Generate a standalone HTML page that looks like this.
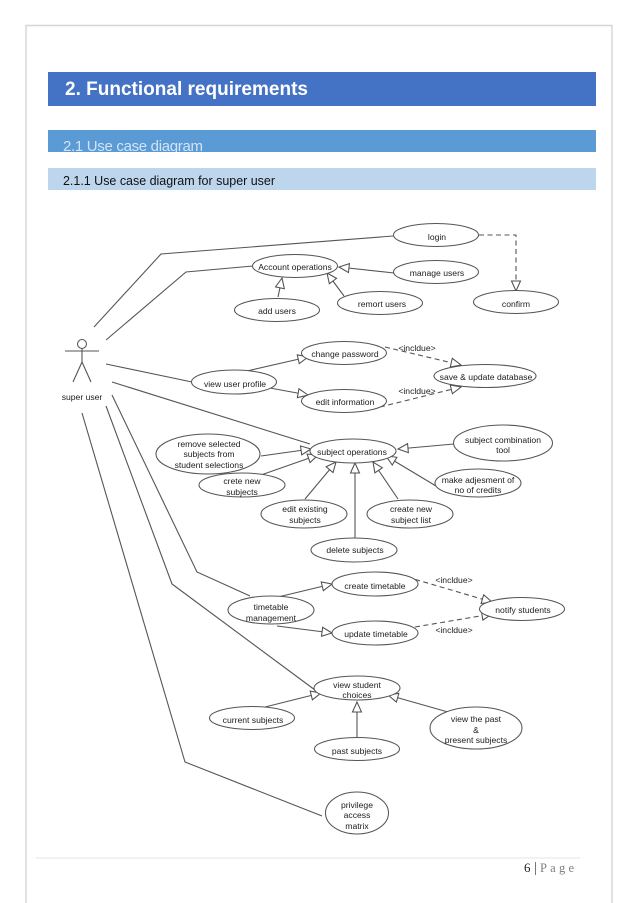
<!DOCTYPE html>
<html>
<head>
<meta charset="utf-8">
<style>
html,body{margin:0;padding:0;background:#fff;width:638px;height:903px;overflow:hidden}
svg{display:block}
.d line,.d polyline{fill:none;stroke:#555;stroke-width:1.1}
.d ellipse{fill:#fff;stroke:#555;stroke-width:1.05}
.d text{font-family:"Liberation Sans",sans-serif;font-size:8.6px;fill:#1c1c1c;text-anchor:middle}
.a{marker-end:url(#tri)}
.dash{stroke-dasharray:5 3.5}
</style>
</head>
<body>
<svg width="638" height="903" viewBox="0 0 638 903" xmlns="http://www.w3.org/2000/svg">
<defs>
<marker id="tri" markerUnits="userSpaceOnUse" markerWidth="14" markerHeight="12" refX="11" refY="5.5" orient="auto">
<path d="M11 5.5 L1 1 L1 10 Z" fill="#fff" stroke="#505050" stroke-width="1.05"/>
</marker>
<clipPath id="barclip"><rect x="48" y="130" width="548" height="22"/></clipPath>
<filter id="soft" filterUnits="userSpaceOnUse" x="0" y="0" width="638" height="903"><feGaussianBlur stdDeviation="0.3"/></filter>
</defs>

<!-- page frame -->
<polyline points="26,903 26,25.5 612,25.5 612,903" fill="none" stroke="#d4d4d4" stroke-width="1.4"/>

<!-- headings -->
<rect x="48" y="72" width="548" height="34" fill="#4472c4"/>
<text x="65" y="95" font-family="'Liberation Sans',sans-serif" font-weight="bold" font-size="19" fill="#fff" textLength="243" lengthAdjust="spacing">2. Functional requirements</text>
<rect x="48" y="130" width="548" height="22" fill="#5b9bd5"/>
<text x="63" y="151" clip-path="url(#barclip)" font-family="'Liberation Sans',sans-serif" font-size="15" fill="#d3e3f4" textLength="140" lengthAdjust="spacing">2.1 Use case diagram</text>
<rect x="48" y="168" width="548" height="22" fill="#bdd6ee"/>
<text x="63" y="185" font-family="'Liberation Sans',sans-serif" font-size="12.5" fill="#111" textLength="212" lengthAdjust="spacing">2.1.1 Use case diagram for super user</text>

<!-- diagram -->
<g class="d" filter="url(#soft)">
<!-- actor -->
<circle cx="82" cy="344" r="4.5" fill="#fff" stroke="#555" stroke-width="1.05"/>
<line x1="82" y1="348.5" x2="82" y2="362"/>
<line x1="65" y1="351" x2="99" y2="351"/>
<line x1="82" y1="362" x2="73" y2="382"/>
<line x1="82" y1="362" x2="91" y2="382"/>
<text x="82" y="400">super user</text>

<!-- actor links -->
<polyline points="94,327 161,254 393,236"/>
<polyline points="106,340 186,272 253,266"/>
<line x1="106" y1="364" x2="192" y2="382"/>
<line x1="112" y1="382" x2="310" y2="444"/>
<polyline points="112,395 197,572 250,596"/>
<polyline points="106,406 172,584 315,690"/>
<polyline points="82,413 185,762 322,816"/>

<!-- generalizations -->
<line class="a" x1="278" y1="297" x2="282" y2="278"/>
<line class="a" x1="394" y1="273" x2="339" y2="267"/>
<line class="a" x1="344" y1="296" x2="327" y2="273"/>
<line class="a" x1="247" y1="371" x2="308" y2="357"/>
<line class="a" x1="270" y1="388" x2="308" y2="395"/>
<line class="a" x1="261" y1="456" x2="311" y2="449"/>
<line class="a" x1="261" y1="475" x2="318" y2="455"/>
<line class="a" x1="305" y1="499" x2="336" y2="462"/>
<line class="a" x1="355" y1="538" x2="355" y2="463"/>
<line class="a" x1="398" y1="499" x2="373" y2="462"/>
<line class="a" x1="436" y1="486" x2="386" y2="456"/>
<line class="a" x1="454" y1="444" x2="398" y2="449"/>
<line class="a" x1="278" y1="597" x2="332" y2="584"/>
<line class="a" x1="277" y1="626" x2="332" y2="633"/>
<line class="a" x1="265" y1="707" x2="321" y2="693"/>
<line class="a" x1="357" y1="738" x2="357" y2="702"/>
<line class="a" x1="448" y1="712" x2="388" y2="695"/>

<!-- dashed -->
<polyline class="a dash" points="479,235 516,235 516,291"/>
<line class="a dash" x1="385" y1="347" x2="461" y2="365"/>
<line class="a dash" x1="380" y1="407" x2="461" y2="387"/>
<line class="a dash" x1="407" y1="577" x2="492" y2="602"/>
<line class="a dash" x1="415" y1="627" x2="492" y2="614"/>

<!-- use cases -->
<ellipse cx="436" cy="235" rx="42.5" ry="11.5"/><text x="437" y="240">login</text>
<ellipse cx="295" cy="266" rx="42.5" ry="11.5"/><text x="295" y="270">Account operations</text>
<ellipse cx="436" cy="272" rx="42.5" ry="11.5"/><text x="437" y="276">manage users</text>
<ellipse cx="277" cy="310" rx="42.5" ry="11.5"/><text x="277" y="314">add users</text>
<ellipse cx="380" cy="303" rx="42.5" ry="11.5"/><text x="382" y="307">remort users</text>
<ellipse cx="516" cy="302" rx="42.5" ry="11.5"/><text x="516" y="307">confirm</text>
<ellipse cx="344" cy="353" rx="42.5" ry="11.5"/><text x="345" y="357">change password</text>
<ellipse cx="485" cy="376" rx="51" ry="11.5"/><text x="486" y="380">save &amp; update database</text>
<ellipse cx="344" cy="401" rx="42.5" ry="11.5"/><text x="345" y="405">edit information</text>
<ellipse cx="234" cy="382" rx="42.5" ry="12"/><text x="235" y="387">view user profile</text>
<ellipse cx="353" cy="451" rx="43" ry="12"/><text x="352" y="455">subject operations</text>
<ellipse cx="503" cy="443" rx="49.5" ry="18"/><text x="503" y="443">subject combination</text><text x="503" y="453">tool</text>
<ellipse cx="208" cy="454" rx="52" ry="20"/><text x="209" y="447">remove selected</text><text x="209" y="457">subjects from</text><text x="209" y="468">student selections</text>
<ellipse cx="242" cy="485" rx="43" ry="12"/><text x="242" y="484">crete new</text><text x="242" y="495">subjects</text>
<ellipse cx="478" cy="483" rx="43" ry="14"/><text x="478" y="483">make adjesment of</text><text x="478" y="493">no of credits</text>
<ellipse cx="304" cy="514" rx="43" ry="14"/><text x="305" y="512">edit existing</text><text x="305" y="523">subjects</text>
<ellipse cx="410" cy="514" rx="43" ry="14"/><text x="411" y="512">create new</text><text x="411" y="523">subject list</text>
<ellipse cx="354" cy="550" rx="43" ry="12"/><text x="355" y="553">delete subjects</text>
<ellipse cx="271" cy="610" rx="43" ry="14"/><text x="271" y="610">timetable</text><text x="271" y="621">management</text>
<ellipse cx="375" cy="584" rx="43" ry="12"/><text x="375" y="589">create timetable</text>
<ellipse cx="375" cy="633" rx="43" ry="12"/><text x="376" y="637">update timetable</text>
<ellipse cx="522" cy="609" rx="42.5" ry="11.5"/><text x="523" y="613">notify students</text>
<ellipse cx="357" cy="688" rx="43" ry="12"/><text x="357" y="688">view student</text><text x="357" y="698">choices</text>
<ellipse cx="252" cy="718" rx="42.5" ry="11.5"/><text x="253" y="723">current subjects</text>
<ellipse cx="357" cy="749" rx="42.5" ry="11.5"/><text x="357" y="754">past subjects</text>
<ellipse cx="476" cy="728" rx="46" ry="21"/><text x="476" y="722">view the past</text><text x="476" y="733">&amp;</text><text x="476" y="743">present subjects</text>
<ellipse cx="357" cy="813" rx="31.5" ry="21"/><text x="357" y="808">privilege</text><text x="357" y="818">access</text><text x="357" y="829">matrix</text>

<text x="417" y="351">&lt;incldue&gt;</text>
<text x="417" y="394">&lt;incldue&gt;</text>
<text x="454" y="583">&lt;incldue&gt;</text>
<text x="454" y="633">&lt;incldue&gt;</text>
</g>

<!-- footer -->
<line x1="36" y1="858" x2="580" y2="858" stroke="#e4e4e4" stroke-width="1"/>
<text x="524" y="872" font-family="'Liberation Serif',serif" font-size="13" fill="#222">6</text>
<line x1="535.5" y1="862" x2="535.5" y2="875" stroke="#555" stroke-width="0.8"/>
<text x="540" y="872" font-family="'Liberation Serif',serif" font-size="12.5" fill="#7f7f7f" textLength="34" lengthAdjust="spacing">Page</text>
</svg>
</body>
</html>
